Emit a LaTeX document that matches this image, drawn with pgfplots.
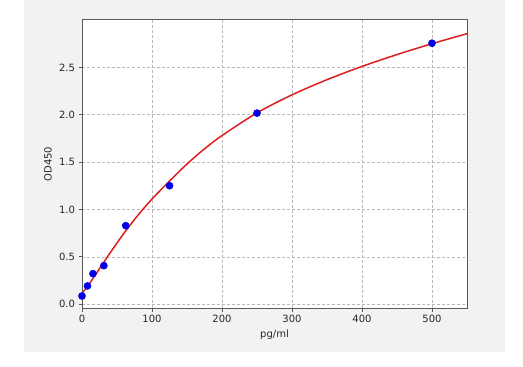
\documentclass[border=0pt]{standalone}
\usepackage{fontspec}
\setmainfont{DejaVu Sans}
\usepackage{pgfplots}
\pgfplotsset{compat=1.18}
\definecolor{figbg}{RGB}{242,242,242}
\definecolor{curvered}{RGB}{220,30,30}
\definecolor{ptblue}{RGB}{0,0,230}
\definecolor{framegray}{RGB}{90,90,90}
\definecolor{gridgray}{RGB}{185,185,185}
\begin{document}
\begin{tikzpicture}[x=1bp,y=1bp]
\path[use as bounding box, fill=white] (0,0) rectangle (523,366);
\fill[figbg] (24,14) rectangle (505,366);
\begin{axis}[
  at={(82bp,58bp)}, anchor=south west,
  scale only axis, width=385bp, height=288bp,
  xmin=0, xmax=550, ymin=-0.04, ymax=3.0,
  xtick={0,100,200,300,400,500},
  ytick={0,0.5,1.0,1.5,2.0,2.5},
  tick pos=left, tick align=outside,
  major tick length=3.5bp,
  every tick/.style={draw=framegray, line width=0.8bp},
  axis line style={draw=framegray, line width=1bp},
  axis background/.style={fill=white},
  grid=major,
  major grid style={draw=gridgray, line width=0.6bp, dash pattern=on 3bp off 2bp},
  font=\fontsize{10bp}{12bp}\selectfont,
  /pgf/number format/assume math mode=true,
  yticklabel style={/pgf/number format/fixed, /pgf/number format/fixed zerofill, /pgf/number format/precision=1, text=black!85},
  xticklabel style={text=black!85},
  scaled ticks=false,
  xlabel={pg/ml}, ylabel={OD450},
  xlabel style={at={(axis description cs:0.5,-0.094)}, anchor=center, text=black!85},
  ylabel style={at={(axis description cs:-0.0883,0.5)}, anchor=center, rotate=0, text=black!85},
]
\addplot[curvered, line width=1.5bp, smooth, tension=0.5, no markers] coordinates {
(0,0.115) (5,0.16) (10,0.21) (20,0.32) (30,0.43) (40,0.54) (60,0.75) (80,0.94)
(100,1.11) (125,1.30) (150,1.48) (175,1.64) (200,1.78) (250,2.02) (300,2.21)
(350,2.37) (400,2.51) (450,2.635) (500,2.75) (550,2.855)
};
\addplot[only marks, mark=*, mark size=3.6bp, ptblue, mark options={draw=ptblue, fill=ptblue}] coordinates {
(0,0.087) (7.8,0.193) (15.6,0.323) (31.25,0.407) (62.5,0.829) (125,1.251) (250,2.017) (500,2.755)
};
\end{axis}
\end{tikzpicture}
\end{document}
